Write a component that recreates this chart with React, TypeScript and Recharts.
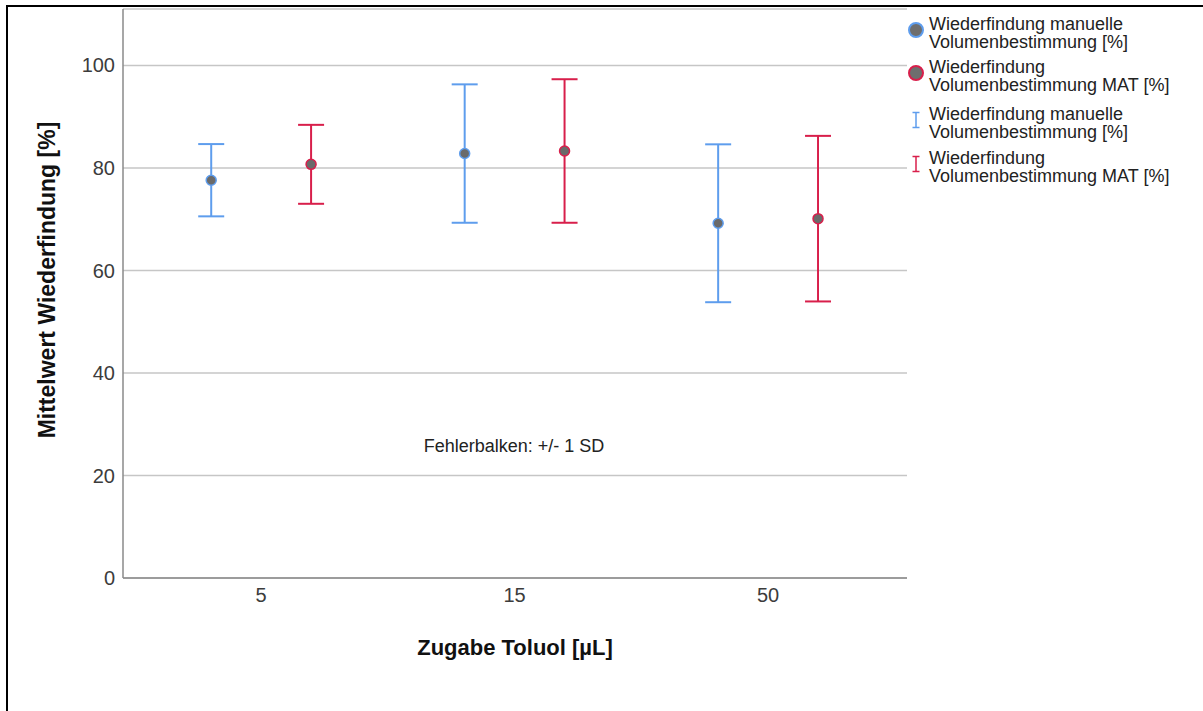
import React from 'react';
import { ScatterChart, Scatter, XAxis, YAxis, CartesianGrid, ErrorBar, Label } from 'recharts';

// Toluene addition groups (µL)
const categories = ['5', '15', '50'];

// Recovery, manual volume determination: mean and 1 SD
const manualMean = [77.6, 82.8, 69.2];
const manualSd = [7.05, 13.5, 15.4];

// Recovery, MAT volume determination: mean and 1 SD
const matMean = [80.7, 83.3, 70.1];
const matSd = [7.7, 14.0, 16.15];

const yTicks = [0, 20, 40, 60, 80, 100];

const BLUE = '#5e9ded';
const RED = '#d81f4b';
const FONT = '"Liberation Sans", Arial, sans-serif';
const OFFSET = 0.197; // dodge within a category

const manualData = categories.map((c, i) => ({ x: i - OFFSET, mean: manualMean[i], sd: manualSd[i] }));
const matData = categories.map((c, i) => ({ x: i + OFFSET, mean: matMean[i], sd: matSd[i] }));

const legendItems = [
  { kind: 'dot', color: BLUE, top: 15, lines: ['Wiederfindung manuelle', 'Volumenbestimmung [%]'] },
  { kind: 'dot', color: RED, top: 58, lines: ['Wiederfindung', 'Volumenbestimmung MAT [%]'] },
  { kind: 'bar', color: BLUE, top: 105, lines: ['Wiederfindung manuelle', 'Volumenbestimmung [%]'] },
  { kind: 'bar', color: RED, top: 149, lines: ['Wiederfindung', 'Volumenbestimmung MAT [%]'] },
];

const dot = (color: string) => (props: any) => (
  <circle cx={props.cx} cy={props.cy} r={5} fill="#6a6a6a" stroke={color} strokeWidth={1.5} />
);

const LegendIcon = ({ kind, color }: { kind: string; color: string }) =>
  kind === 'dot' ? (
    <svg width={18} height={18} style={{ position: 'absolute', left: -22, top: 6 }}>
      <circle cx={9} cy={9} r={7} fill="#6e6e6e" stroke={color} strokeWidth={2} />
    </svg>
  ) : (
    <svg width={18} height={18} style={{ position: 'absolute', left: -22, top: 6 }}>
      <line x1={9} y1={1.5} x2={9} y2={16.5} stroke={color} strokeWidth={1.5} />
      <line x1={5.5} y1={1.5} x2={12.5} y2={1.5} stroke={color} strokeWidth={1.5} />
      <line x1={5.5} y1={16.5} x2={12.5} y2={16.5} stroke={color} strokeWidth={1.5} />
    </svg>
  );

export default function App() {
  return (
    <div style={{ position: 'absolute', left: 0, top: 0, width: 1203, height: 711, background: '#fff', fontFamily: FONT, overflow: 'hidden' }}>
      <div style={{ position: 'absolute', left: 6, top: 5, width: 1203, height: 711, borderTop: '2px solid #000', borderLeft: '2px solid #000' }} />
      <div style={{ position: 'absolute', left: 0, top: 0 }}>
        <ScatterChart width={1203} height={711} margin={{ top: 9, right: 296, bottom: 53, left: 43 }}>
          <CartesianGrid vertical={false} stroke="#c6c6c6" strokeWidth={1.5} />
          <XAxis
            type="number"
            dataKey="x"
            domain={[-0.545, 2.548]}
            ticks={[0, 1, 2]}
            tickFormatter={(v: number) => categories[v]}
            allowDataOverflow
            height={80}
            axisLine={{ stroke: '#8a8a8a', strokeWidth: 1.5 }}
            tickLine={false}
            tickMargin={4}
            tick={{ fill: '#3c3c3c', fontSize: 20, fontFamily: FONT }}
          >
            <Label value="Zugabe Toluol [µL]" position="insideBottom" offset={3} style={{ fontSize: 22, fontWeight: 'bold', fill: '#111', fontFamily: FONT }} />
          </XAxis>
          <YAxis
            type="number"
            dataKey="mean"
            domain={[0, 111]}
            ticks={yTicks}
            allowDataOverflow
            width={80}
            axisLine={{ stroke: '#8a8a8a', strokeWidth: 1.5 }}
            tickLine={false}
            tick={{ fill: '#3c3c3c', fontSize: 20, fontFamily: FONT }}
          />
          <Scatter data={manualData} shape={dot(BLUE)} isAnimationActive={false}>
            <ErrorBar dataKey="sd" direction="y" width={13} stroke={BLUE} strokeWidth={2} isAnimationActive={false} />
          </Scatter>
          <Scatter data={matData} shape={dot(RED)} isAnimationActive={false}>
            <ErrorBar dataKey="sd" direction="y" width={13} stroke={RED} strokeWidth={2} isAnimationActive={false} />
          </Scatter>
        </ScatterChart>
      </div>
      {/* y axis title */}
      <div
        style={{
          position: 'absolute',
          left: 47,
          top: 280,
          transform: 'translate(-50%, -50%) rotate(-90deg)',
          whiteSpace: 'nowrap',
          fontSize: 23,
          fontWeight: 'bold',
          color: '#111',
          lineHeight: '23px',
        }}
      >
        Mittelwert Wiederfindung [%]
      </div>
      <div style={{ position: 'absolute', left: 0, top: 436, width: 1028, textAlign: 'center', fontSize: 18, color: '#222', lineHeight: '20px' }}>
        Fehlerbalken: +/- 1 SD
      </div>
      {legendItems.map((item, i) => (
        <div key={i} style={{ position: 'absolute', left: 929, top: item.top, fontSize: 18, lineHeight: '18px', color: '#222', whiteSpace: 'nowrap' }}>
          <LegendIcon kind={item.kind} color={item.color} />
          {item.lines.map((l, j) => (
            <div key={j}>{l}</div>
          ))}
        </div>
      ))}
    </div>
  );
}
